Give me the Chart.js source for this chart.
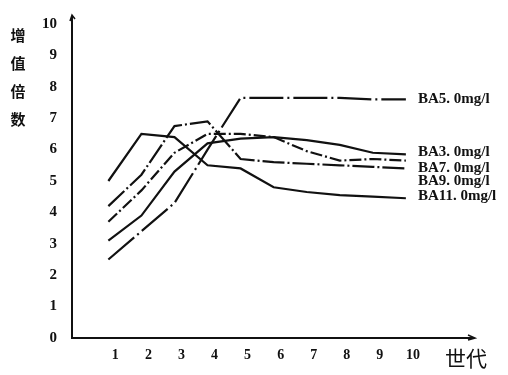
<!DOCTYPE html>
<html lang="zh">
<head>
  <meta charset="UTF-8">
  <title>增值倍数</title>
  <script src="https://cdn.jsdelivr.net/npm/chart.js"></script>
  <style>
    body { margin: 0; background: #fff; }
    #wrap { width: 508px; height: 375px; position: relative; }
  </style>
</head>
<body>
  <div id="wrap"><canvas id="chart"></canvas></div>

  <script>
    const gens = [1, 2, 3, 4, 5, 6, 7, 8, 9, 10];
    const yTicks = [0, 1, 2, 3, 4, 5, 6, 7, 8, 9, 10];
    const seriesNames = ['BA5. 0mg/l', 'BA3. 0mg/l', 'BA7. 0mg/l', 'BA9. 0mg/l', 'BA11. 0mg/l'];
    const ba5 = [2.5, 3.4, 4.3, 6.0, 7.65, 7.65, 7.65, 7.65, 7.6, 7.6];
    const ba3 = [3.1, 3.9, 5.3, 6.2, 6.35, 6.4, 6.3, 6.15, 5.9, 5.85];
    const ba7 = [3.7, 4.7, 5.9, 6.5, 6.5, 6.4, 5.95, 5.65, 5.7, 5.65];
    const ba9 = [4.2, 5.2, 6.75, 6.9, 5.7, 5.6, 5.55, 5.5, 5.45, 5.4];
    const ba11 = [5.0, 6.5, 6.4, 5.5, 5.4, 4.8, 4.65, 4.55, 4.5, 4.45];

    const ink = '#111';
    const dashes = [[34, 4, 2, 4], [], [12, 3, 2, 3], [22, 3, 2, 3], []];
    const labelNudge = [0, -2, 8, 13, -2];

    function pts(arr) {
      return gens.map((g, i) => ({ x: g, y: arr[i] }));
    }

    const series = [ba5, ba3, ba7, ba9, ba11];

    // axes with arrows, vertical y title, x title, line labels
    const decor = {
      id: 'decor',
      afterDraw(chart) {
        const ctx = chart.ctx;
        const a = chart.chartArea;
        ctx.save();
        ctx.strokeStyle = ink;
        ctx.fillStyle = ink;
        ctx.lineWidth = 2;
        ctx.beginPath();
        ctx.moveTo(a.left, a.top - 8);
        ctx.lineTo(a.left, a.bottom);
        ctx.lineTo(a.right + 2, a.bottom);
        ctx.stroke();
        // arrow heads
        ctx.lineWidth = 1.5;
        ctx.beginPath();
        ctx.moveTo(a.left - 2, a.top - 3);
        ctx.lineTo(a.left, a.top - 9);
        ctx.lineTo(a.left + 3, a.top - 5);
        ctx.stroke();
        ctx.beginPath();
        ctx.moveTo(a.right - 4, a.bottom - 3);
        ctx.lineTo(a.right + 3, a.bottom);
        ctx.lineTo(a.right - 4, a.bottom + 2);
        ctx.stroke();

        // y title
        ctx.font = 'bold 15px "Noto Sans CJK SC"';
        ctx.textAlign = 'center';
        ctx.textBaseline = 'middle';
        const yTitle = '增值倍数';
        for (let i = 0; i < yTitle.length; i++) {
          ctx.fillText(yTitle[i], 18, 35 + i * 28);
        }

        // x title
        ctx.font = '21px "Noto Sans CJK SC"';
        ctx.fillText('世代', a.right - 6, a.bottom + 20);

        // series labels next to line ends
        ctx.font = 'bold 15px "Liberation Serif"';
        ctx.textAlign = 'left';
        chart.data.datasets.forEach((ds, i) => {
          const meta = chart.getDatasetMeta(i);
          const last = meta.data[meta.data.length - 1];
          ctx.fillText(ds.label, last.x + 12, last.y + labelNudge[i]);
        });
        ctx.restore();
      }
    };

    new Chart(document.getElementById('chart'), {
      type: 'line',
      data: {
        datasets: series.map((arr, i) => ({
          label: seriesNames[i],
          data: pts(arr),
          borderColor: ink,
          borderWidth: 2.2,
          borderDash: dashes[i],
          pointRadius: 0,
          tension: 0,
          fill: false
        }))
      },
      options: {
        responsive: true,
        maintainAspectRatio: false,
        animation: false,
        layout: { padding: { top: 22, right: 36, left: 0, bottom: 0 } },
        plugins: {
          legend: { display: false },
          tooltip: { enabled: false }
        },
        scales: {
          x: {
            type: 'linear',
            min: -0.1,
            max: 12,
            grid: { display: false, drawTicks: false },
            border: { display: false },
            afterBuildTicks: s => { s.ticks = gens.map(v => ({ value: v })); },
            afterFit: s => { s.height = 37; },
            ticks: {
              autoSkip: false,
              maxRotation: 0,
              labelOffset: 7,
              padding: 9,
              color: ink,
              font: { family: 'Liberation Serif', weight: 'bold', size: 14 }
            }
          },
          y: {
            min: 0,
            max: 10,
            grid: { display: false, drawTicks: false },
            border: { display: false },
            afterBuildTicks: s => { s.ticks = yTicks.map(v => ({ value: v })); },
            afterFit: s => { s.width = 72; },
            ticks: {
              autoSkip: false,
              padding: 15,
              color: ink,
              font: { family: 'Liberation Serif', weight: 'bold', size: 15 }
            }
          }
        }
      },
      plugins: [decor]
    });
  </script>
</body>
</html>
